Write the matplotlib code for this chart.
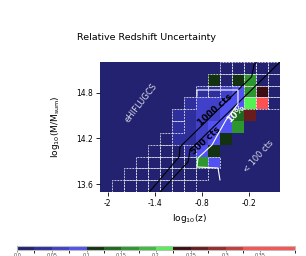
import numpy as np
import matplotlib
matplotlib.use("Agg")
import matplotlib.pyplot as plt
from matplotlib.colors import ListedColormap, BoundaryNorm
from matplotlib.patches import Rectangle

# ---------------- data ----------------
x_edges = np.linspace(-2.1, 0.2, 16)      # log10(z) bin edges
y_edges = np.linspace(13.5, 15.2, 12)     # log10(M) bin edges

n = 0.01
b2, b3, b4 = 0.035, 0.06, 0.09
g1, g2, g3, g4, g5 = 0.11, 0.135, 0.16, 0.185, 0.21
r1, r2, r5 = 0.235, 0.26, 0.36

# rows listed from top (row 10) to bottom (row 0), 15 columns each
uncertainty = [
    [n, n, n, n, n, n, n,  n,  n,  n,  n,  n,  n,  n,  n],
    [n, n, n, n, n, n, n,  n,  n,  g1, n,  g1, g3, n,  n],
    [n, n, n, n, n, n, n,  n,  b2, b2, b3, b4, g3, r1, n],
    [n, n, n, n, n, n, n,  b2, b3, b3, b4, b4, g5, r5, n],
    [n, n, n, n, n, n, b2, b2, b3, b3, b4, g2, r2, n,  n],
    [n, n, n, n, n, n, b2, b2, b3, b4, b4, g3, n,  n,  n],
    [n, n, n, n, n, n, b2, b2, b3, b4, g1, n,  n,  n,  n],
    [n, n, n, n, n, n, n,  b2, b4, g1, n,  n,  n,  n,  n],
    [n, n, n, n, n, n, n,  n,  g3, b4, n,  n,  n,  n,  n],
    [n, n, n, n, n, n, n,  n,  n,  n,  n,  n,  n,  n,  n],
    [n, n, n, n, n, n, n,  n,  n,  n,  n,  n,  n,  n,  n],
]

# 1 = cell flagged (dashed white outline)
flagged = [
    [0, 0, 0, 0, 0, 0, 0, 0, 0, 0, 1, 1, 1, 1, 1],
    [0, 0, 0, 0, 0, 0, 0, 0, 0, 1, 1, 1, 1, 1, 1],
    [0, 0, 0, 0, 0, 0, 0, 0, 1, 1, 0, 0, 1, 1, 1],
    [0, 0, 0, 0, 0, 0, 0, 1, 0, 0, 0, 0, 1, 1, 1],
    [0, 0, 0, 0, 0, 0, 1, 0, 0, 0, 0, 0, 0, 0, 0],
    [0, 0, 0, 0, 0, 0, 1, 0, 0, 0, 0, 0, 0, 0, 0],
    [0, 0, 0, 0, 0, 1, 0, 0, 0, 0, 0, 0, 0, 0, 0],
    [0, 0, 0, 0, 1, 1, 1, 1, 0, 0, 0, 0, 0, 0, 0],
    [0, 0, 0, 1, 1, 1, 1, 1, 0, 1, 0, 0, 0, 0, 0],
    [0, 0, 1, 1, 1, 1, 1, 1, 1, 0, 0, 0, 0, 0, 0],
    [0, 1, 1, 1, 1, 1, 1, 1, 0, 0, 0, 0, 0, 0, 0],
]

line1000_x = [-1.47, -1.087, -1.078, -0.162, -0.132, -0.10]
line1000_y = [13.50, 13.962, 14.089, 15.008, 15.161, 15.20]
line500_x = [-1.333, -0.972, -0.950, 0.20]
line500_y = [13.50, 13.897, 14.05, 15.20]
contour10_x = [-0.861, -0.861, -0.337, -0.337, -0.490, -0.669, -0.848, -0.861, -0.592, -0.567]
contour10_y = [14.756, 14.834, 14.834, 14.651, 14.442, 14.115, 13.945, 13.827, 13.814, 13.658]

cbar_bounds = [0, 0.025, 0.05, 0.075, 0.1, 0.125, 0.15, 0.175, 0.2,
               0.225, 0.25, 0.275, 0.3, 0.325, 0.4]
cbar_colors = ['#222270', '#2e2e9c', '#4040c8', '#5252f2',
               '#123212', '#1e6a1e', '#2e962e', '#3cbe3c', '#52f252',
               '#3a0e12', '#6a1c1c', '#982c2c', '#c63c3c', '#fc5252']
cbar_ticks = [0.0, 0.05, 0.1, 0.15, 0.2, 0.25, 0.3, 0.35]
cbar_ticklabels = ['0.0', '0.05', '0.1', '0.15', '0.2', '0.25', '0.3', '0.35']

xticks = [-2, -1.4, -0.8, -0.2]
yticks = [13.6, 14.2, 14.8]

# ---------------- plot ----------------
fig = plt.figure(figsize=(3.06, 2.56), dpi=100)
ax = fig.add_axes([100/306, 1-192/256, 180/306, 130/256])

cmap = ListedColormap(cbar_colors)
norm = BoundaryNorm(cbar_bounds, cmap.N)
Z = np.array(uncertainty)[::-1]
F = np.array(flagged)[::-1]
mesh = ax.pcolormesh(x_edges, y_edges, Z, cmap=cmap, norm=norm)

dx = np.diff(x_edges)
dy = np.diff(y_edges)
for i in range(F.shape[0]):
    for j in range(F.shape[1]):
        if F[i, j]:
            ax.add_patch(Rectangle((x_edges[j], y_edges[i]), dx[j], dy[i],
                                   fill=False, ec='#dcdce8', lw=0.7, ls=(0, (2, 1)),
                                   alpha=0.85, zorder=3))

ax.plot(line1000_x, line1000_y, color='black', lw=0.8, zorder=4)
ax.plot(line500_x, line500_y, color='black', lw=0.8, zorder=4)
ax.plot(contour10_x, contour10_y, color='white', lw=0.8, zorder=4)

ax.text(-1.576, 14.664, 'eHIFLUGCS', color='#d8d8e8', fontsize=6, rotation=52,
        ha='center', va='center')
ax.text(-0.631, 14.573, '1000 cts', color='black', fontsize=6.5, fontweight='bold',
        rotation=42, ha='center', va='center', zorder=5)
ax.text(-0.746, 14.167, '500 cts', color='black', fontsize=6.5, fontweight='bold',
        rotation=43, ha='center', va='center', zorder=5)
ax.text(-0.362, 14.52, '10%', color='white', fontsize=6.5, fontweight='bold',
        rotation=45, ha='center', va='center', zorder=5)
ax.text(-0.068, 13.971, '< 100 cts', color='#d8d8e8', fontsize=6, rotation=48,
        ha='center', va='center')

ax.set_xlim(-2.1, 0.2)
ax.set_ylim(13.5, 15.2)
ax.set_xticks(xticks)
ax.set_xticklabels(['-2', '-1.4', '-0.8', '-0.2'])
ax.set_yticks(yticks)
ax.set_yticklabels(['13.6', '14.2', '14.8'])
ax.tick_params(labelsize=5.5, length=3, width=0.6, pad=2)
for s in ax.spines.values():
    s.set_visible(False)
ax.set_xlabel('log$_{10}$(z)', fontsize=6.5, labelpad=3)
ax.set_ylabel('log$_{10}$(M/M$_{\\rm sum}$)', fontsize=6.5, labelpad=10)

fig.text(146.5/306, 1-38/256, 'Relative Redshift Uncertainty', fontsize=6.8,
         ha='center', va='center')

cax = fig.add_axes([17/306, 1-250/256, 278/306, 4/256])
cb = fig.colorbar(mesh, cax=cax, orientation='horizontal', ticks=cbar_ticks,
                  spacing='proportional')
cb.ax.set_xticklabels(cbar_ticklabels)
cb.ax.tick_params(labelsize=3.5, length=1.5, width=0.4, pad=1, colors='#444444')
cb.outline.set_edgecolor('#bbbbbb')
cb.outline.set_linewidth(0.8)

fig.savefig('out.png', dpi=100)
